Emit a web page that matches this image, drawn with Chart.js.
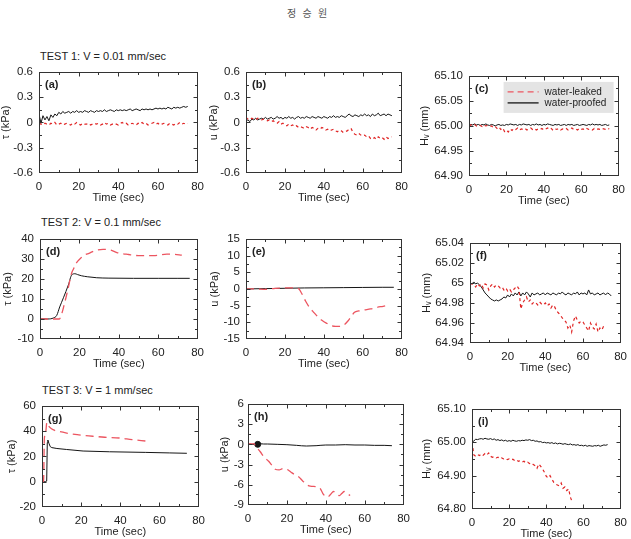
<!DOCTYPE html>
<html>
<head>
<meta charset="utf-8">
<script src="https://cdn.jsdelivr.net/npm/chart.js@4/dist/chart.umd.min.js"></script>
<style>
  html, body { margin: 0; padding: 0; background: #fff; overflow: hidden; }
  #page { position: relative; width: 631px; height: 539px; }
  .txt { position: absolute; font-family: "Liberation Sans", Arial, sans-serif; font-size: 11px; color: #222; white-space: nowrap; line-height: 13px; }
  .head { font-family: "Noto Sans CJK KR", sans-serif; font-size: 10px; color: #555; letter-spacing: 2px; }
</style>
</head>
<body>
<div id="page">
  <div class="txt head" style="left:287px;top:6px;">정 승 원</div>
  <div class="txt" style="left:40px;top:50px;">TEST 1: V = 0.01 mm/sec</div>
  <div class="txt" style="left:41px;top:216px;">TEST 2: V = 0.1 mm/sec</div>
  <div class="txt" style="left:42px;top:384px;">TEST 3: V = 1 mm/sec</div>
</div>
<script>
// --- axes ---
const X_TICK_VALUES = [0, 20, 40, 60, 80];
const X_TICK_LABELS = ['0', '20', '40', '60', '80'];

const yValsTau1 = [-0.6, -0.3, 0, 0.3, 0.6];
const yLabelsTau1 = ['-0.6', '-0.3', '0', '0.3', '0.6'];
const yValsH1 = [64.90, 64.95, 65.00, 65.05, 65.10];
const yLabelsH1 = ['64.90', '64.95', '65.00', '65.05', '65.10'];
const yValsTau2 = [-10, 0, 10, 20, 30, 40];
const yLabelsTau2 = ['-10', '0', '10', '20', '30', '40'];
const yValsU2 = [-15, -10, -5, 0, 5, 10, 15];
const yLabelsU2 = ['-15', '-10', '-5', '0', '5', '10', '15'];
const yValsH2 = [64.94, 64.96, 64.98, 65.00, 65.02, 65.04];
const yLabelsH2 = ['64.94', '64.96', '64.98', '65', '65.02', '65.04'];
const yValsTau3 = [-20, 0, 20, 40, 60];
const yLabelsTau3 = ['-20', '0', '20', '40', '60'];
const yValsU3 = [-9, -6, -3, 0, 3, 6];
const yLabelsU3 = ['-9', '-6', '-3', '0', '3', '6'];
const yValsH3 = [64.80, 64.90, 65.00, 65.10];
const yLabelsH3 = ['64.80', '64.90', '65.00', '65.10'];

// --- time base for the sampled records (sec) ---
const T76 = [0,1,2,3,4,5,6,7,8,9,10,11,12,13,14,15,16,17,18,19,20,21,22,23,24,25,26,27,28,29,
  30,31,32,33,34,35,36,37,38,39,40,41,42,43,44,45,46,47,48,49,50,51,52,53,54,55,56,57,58,59,
  60,61,62,63,64,65,66,67,68,69,70,71,72,73,74,75];

// --- TEST 1 ---
const aTauProof = [0.10,-0.01,0.08,0.03,0.07,0.02,0.09,0.06,0.10,0.08,
  0.12,0.10,0.13,0.11,0.12,0.13,0.11,0.13,0.12,0.14,
  0.12,0.13,0.12,0.14,0.13,0.12,0.14,0.13,0.12,0.14,
  0.13,0.14,0.13,0.15,0.13,0.14,0.15,0.14,0.13,0.15,
  0.14,0.15,0.14,0.15,0.14,0.15,0.16,0.14,0.15,0.16,
  0.15,0.14,0.16,0.15,0.16,0.15,0.16,0.15,0.16,0.17,
  0.16,0.17,0.16,0.17,0.16,0.18,0.17,0.16,0.18,0.17,
  0.18,0.17,0.18,0.19,0.18,0.19];
const aTauLeak = [-0.01,-0.02,-0.03,-0.01,-0.02,-0.03,-0.01,-0.02,0.00,-0.03,
  -0.02,-0.01,-0.03,-0.02,-0.01,-0.02,-0.03,-0.01,-0.02,0.00,
  -0.02,-0.03,-0.01,-0.02,-0.02,-0.01,-0.03,-0.02,-0.01,-0.02,
  -0.01,-0.03,-0.02,0.00,-0.02,-0.01,-0.03,-0.02,-0.01,-0.02,
  -0.03,-0.01,0.00,-0.02,-0.01,-0.03,-0.02,-0.01,-0.02,-0.03,
  -0.01,-0.02,0.00,-0.02,-0.01,-0.03,-0.02,-0.01,0.00,-0.02,
  -0.01,-0.03,-0.02,-0.01,-0.02,-0.03,-0.01,-0.02,-0.03,-0.01,
  -0.02,0.00,-0.02,-0.01,-0.02,-0.01];
const bUProof = [0.02,0.03,0.01,0.04,0.03,0.05,0.03,0.04,0.05,0.04,
  0.06,0.04,0.05,0.06,0.04,0.05,0.07,0.05,0.06,0.04,
  0.06,0.05,0.07,0.05,0.06,0.04,0.06,0.07,0.05,0.06,
  0.05,0.07,0.06,0.05,0.07,0.06,0.05,0.07,0.06,0.05,
  0.07,0.06,0.05,0.07,0.06,0.08,0.06,0.07,0.06,0.08,
  0.07,0.06,0.08,0.10,0.08,0.07,0.09,0.08,0.07,0.09,
  0.08,0.10,0.08,0.09,0.07,0.10,0.08,0.09,0.11,0.08,
  0.09,0.10,0.08,0.10,0.09,0.08];
const bULeak = [0.06,0.04,0.03,0.05,0.04,0.03,0.05,0.04,0.03,0.04,
  0.03,0.02,0.03,0.01,0.02,0.00,-0.01,0.01,-0.02,-0.01,
  -0.03,-0.04,-0.02,-0.04,-0.03,-0.05,-0.04,-0.06,-0.05,-0.06,
  -0.07,-0.05,-0.06,-0.08,-0.06,-0.07,-0.09,-0.07,-0.08,-0.06,
  -0.07,-0.09,-0.08,-0.10,-0.09,-0.08,-0.10,-0.11,-0.09,-0.10,
  -0.12,-0.11,-0.10,-0.08,-0.07,-0.12,-0.14,-0.15,-0.13,-0.15,
  -0.16,-0.15,-0.17,-0.16,-0.19,-0.20,-0.18,-0.20,-0.17,-0.19,
  -0.18,-0.20,-0.17,-0.19,-0.18,-0.17];
const cHProof = [65.001,65.003,65.002,65.004,65.002,65.003,65.001,65.003,65.002,65.004,
  65.002,65.001,65.003,65.002,65.000,65.002,65.003,65.001,65.002,65.001,
  65.003,65.002,65.004,65.003,65.002,65.003,65.001,65.003,65.002,65.004,
  65.003,65.002,65.003,65.001,65.003,65.002,65.004,65.002,65.003,65.001,
  65.003,65.002,65.004,65.003,65.002,65.001,65.003,65.002,65.003,65.001,
  65.002,65.003,65.001,65.003,65.002,65.003,65.001,65.002,65.003,65.001,
  65.002,65.003,65.002,65.001,65.003,65.002,65.004,65.002,65.003,65.002,
  65.003,65.001,65.002,65.003,65.001,65.002];
const cHLeak = [65.000,65.002,65.001,65.003,65.000,65.002,65.001,64.999,65.002,65.000,
  65.001,64.999,65.000,64.997,64.999,64.995,64.998,64.993,64.996,64.989,
  64.992,64.988,64.994,64.991,64.995,64.993,64.996,64.992,64.994,64.993,
  64.995,64.992,64.994,64.996,64.993,64.995,64.992,64.994,64.993,64.995,
  64.992,64.994,64.996,64.993,64.995,64.991,64.994,64.993,64.995,64.992,
  64.994,64.993,64.995,64.992,64.994,64.996,64.993,64.994,64.992,64.995,
  64.993,64.994,64.992,64.995,64.993,64.994,64.992,64.995,64.993,64.994,
  64.993,64.995,64.994,64.993,64.995,64.994];

// --- TEST 2 ---
const dTimeProof = [0, 4, 6.8, 8.5, 10, 11.9, 14.4, 16.1, 17.8, 19, 21, 24, 28.8, 35, 47.5, 60, 70, 76];
const dTauProof = [0, 0, 0.5, 1.8, 6, 10.6, 17, 22, 22.6, 22.2, 21.6, 21.1, 20.6, 20.4, 20.3, 20.3, 20.3, 20.3];
const dTimeLeak = [0, 5, 9.8, 11, 12.5, 14, 16, 17, 18.5, 20.3, 22, 25.4, 28, 32, 36, 39, 45, 50.8, 57.6, 64.4, 68, 72];
const dTauLeak = [0, 0, 0, 2.5, 8, 14, 22.7, 25, 28, 30, 31.6, 33, 34.2, 34.8, 34.4, 33.2, 32.2, 31.6, 31.6, 32.4, 32.3, 31.9];
const eTimeProof = [0, 10, 20, 30, 40, 50, 60, 70, 76];
const eUProof = [0, 0.1, 0.2, 0.3, 0.35, 0.4, 0.45, 0.5, 0.5];
const eTimeLeak = [0, 5, 10, 15, 20, 25, 27, 28.5, 30.6, 32.5, 34.8, 37, 39, 41.5, 44, 46, 48.2, 50.5, 52.4, 54, 55.8, 58, 60.8, 64, 67.5, 70.5, 73];
const eULeak = [0, 0, -0.1, 0.2, 0.3, 0.3, 0.1, -1.2, -3.6, -5.4, -7, -8.4, -9.4, -10.3, -11, -11.2, -11.2, -10.7, -9.6, -8.3, -7, -6.6, -6.3, -6, -5.5, -5.2, -4.9];
const fHProof = [65.000,64.999,65.001,64.999,65.000,64.998,64.996,64.993,64.990,64.988,
  64.986,64.984,64.983,64.982,64.983,64.982,64.983,64.984,64.986,64.985,
  64.988,64.986,64.989,64.987,64.990,64.988,64.991,64.987,64.990,64.988,
  64.991,64.989,64.986,64.990,64.988,64.989,64.990,64.988,64.989,64.990,
  64.988,64.990,64.989,64.988,64.990,64.989,64.988,64.990,64.989,64.991,
  64.989,64.988,64.990,64.989,64.988,64.990,64.989,64.991,64.988,64.990,
  64.989,64.990,64.988,64.993,64.989,64.990,64.988,64.989,64.990,64.988,
  64.989,64.990,64.988,64.990,64.989,64.987];
const fHLeak = [65.000,64.999,64.998,64.996,64.999,64.997,64.999,64.995,64.999,64.998,
  64.993,64.997,64.999,64.996,64.998,64.997,64.995,64.996,64.993,64.995,
  64.992,64.994,64.991,64.993,64.995,64.997,64.994,64.974,64.980,64.983,
  64.986,64.981,64.983,64.979,64.981,64.980,64.978,64.981,64.979,64.978,
  64.980,64.977,64.979,64.975,64.978,64.976,64.972,64.970,64.968,64.965,
  64.963,64.961,64.955,64.958,64.951,64.962,64.967,64.963,64.960,64.962,
  64.961,64.958,64.955,64.952,64.960,64.956,64.954,64.959,64.951,64.955,
  64.953,64.957];

// --- TEST 3 ---
const gTimeProof = [0, 2, 2.4, 2.7, 3, 3.5, 4.2, 5, 7.6, 12.6, 21, 34.5, 53, 65, 74];
const gTauProof = [0, 0, 0.5, 31, 33, 30.5, 27.8, 27, 26.3, 25.5, 24.3, 23.7, 23.2, 22.8, 22.5];
const gTimeLeak = [0, 0.5, 0.8, 1.2, 1.8, 2.5, 3, 4, 5.9, 8, 12.6, 18, 26, 32, 39.5, 46, 53];
const gTauLeak = [0, 0, 0.5, 34, 38, 47, 45, 43, 41, 40, 38.5, 37.2, 36, 35.2, 34.6, 33.3, 32.2];
const hTimeProof = [0, 2, 4, 5, 6, 8, 10, 15, 20, 25, 30, 35, 40, 45, 50, 55, 60, 65, 70, 74];
const hUProof = [0, 0, 0, 0, 0.1, 0.05, 0.05, 0, -0.05, -0.15, -0.25, -0.2, -0.1, -0.1, -0.05, -0.1, -0.1, -0.15, -0.15, -0.2];
const hTimeLeak = [0, 1, 2, 3, 4, 6.3, 8, 10.6, 12, 14, 16, 18, 20, 22, 24, 26, 28, 30.3, 32, 35.4, 37, 38.5, 39.7, 41, 42.5, 44, 45.5, 47, 48.2, 49.5, 51, 52.5];
const hULeak = [0, 0.1, 0.05, 0.1, -0.3, -1.1, -1.8, -2.5, -3, -3.7, -3.8, -3.6, -3.7, -4.1, -4.5, -4.8, -5.4, -6, -6.2, -6.3, -6.5, -7.3, -7.7, -7.8, -7.4, -7.0, -7.3, -7.6, -7.3, -7.0, -7.3, -7.6];
const iHProof = [65.000,65.004,65.009,65.008,65.010,65.011,65.009,65.012,65.010,65.009,
  65.011,65.008,65.010,65.006,65.008,65.005,65.007,65.004,65.006,65.003,
  65.005,65.003,65.006,65.004,65.003,65.005,65.004,65.006,65.005,65.007,
  65.006,65.008,65.005,65.006,65.003,65.004,65.001,65.002,64.999,65.000,
  64.998,64.999,64.997,64.999,64.996,64.998,64.995,64.997,64.996,64.994,
  64.996,64.994,64.993,64.995,64.992,64.993,64.991,64.993,64.990,64.991,
  64.989,64.991,64.988,64.990,64.989,64.988,64.990,64.989,64.991,64.988,
  64.990,64.992,64.991,64.993];
const iHLeak = [65.000,64.962,64.958,64.963,64.960,64.965,64.961,64.966,64.962,64.968,
  64.958,64.955,64.957,64.953,64.955,64.951,64.953,64.950,64.952,64.948,
  64.950,64.947,64.949,64.945,64.947,64.943,64.945,64.941,64.943,64.938,
  64.940,64.936,64.938,64.933,64.930,64.922,64.935,64.928,64.920,64.910,
  64.898,64.893,64.900,64.890,64.880,64.874,64.872,64.869,64.878,64.862,
  64.866,64.855,64.860,64.835,64.820];

const LABEL_LEAK = 'water-leaked';
const LABEL_PROOF = 'water-proofed';
const RED = '#e02626';
const RED_SOFT = '#ec5560';
const BLACK = '#151515';
const FONT = '"Liberation Sans", Arial, sans-serif';

Chart.defaults.font.family = FONT;
Chart.defaults.font.size = 11;
Chart.defaults.color = '#222';

const zip = (xs, ys) => ys.map((y, i) => ({ x: xs[i], y }));

// noisy records: short dashes / thin solid line
const leakNoisy = (xs, ys) => ({ label: LABEL_LEAK, data: zip(xs, ys), borderColor: RED, borderWidth: 1.2, borderDash: [3, 3], pointRadius: 0, tension: 0 });
const proofNoisy = (xs, ys) => ({ label: LABEL_PROOF, data: zip(xs, ys), borderColor: BLACK, borderWidth: 1, pointRadius: 0, tension: 0 });
// smooth records: long dashes
const leakSmooth = (xs, ys) => ({ label: LABEL_LEAK, data: zip(xs, ys), borderColor: RED_SOFT, borderWidth: 1.3, borderDash: [8, 5], pointRadius: 0, cubicInterpolationMode: 'monotone' });
const proofSmooth = (xs, ys) => ({ label: LABEL_PROOF, data: zip(xs, ys), borderColor: BLACK, borderWidth: 1, pointRadius: 0, cubicInterpolationMode: 'monotone' });

// box, inward ticks, panel tag and the legend of (c)
const framePlugin = {
  id: 'frame',
  afterDatasetsDraw(chart, args, opts) {
    const { ctx, chartArea: a, scales: { x, y } } = chart;
    const L = Math.round(a.left) + 0.5, R = Math.round(a.right) - 0.5;
    const T = Math.round(a.top) + 0.5, B = Math.round(a.bottom) - 0.5;
    ctx.save();
    ctx.strokeStyle = '#333';
    ctx.lineWidth = 1;
    ctx.setLineDash([]);
    ctx.strokeRect(L, T, R - L, B - T);

    const mids = (v) => v.slice(1).map((s, i) => (s + v[i]) / 2);
    ctx.beginPath();
    const xMaj = X_TICK_VALUES, yMaj = opts.yVals;
    [[xMaj, 4], [mids(xMaj), 2.5]].forEach(([vals, len]) => vals.forEach(v => {
      const p = Math.round(x.getPixelForValue(v)) + 0.5;
      if (p <= L + 1 || p >= R - 1) return;
      ctx.moveTo(p, B); ctx.lineTo(p, B - len);
      ctx.moveTo(p, T); ctx.lineTo(p, T + len);
    }));
    [[yMaj, 4], [mids(yMaj), 2.5]].forEach(([vals, len]) => vals.forEach(v => {
      const p = Math.round(y.getPixelForValue(v)) + 0.5;
      if (p <= T + 1 || p >= B - 1) return;
      ctx.moveTo(L, p); ctx.lineTo(L + len, p);
      ctx.moveTo(R, p); ctx.lineTo(R - len, p);
    }));
    ctx.stroke();

    ctx.fillStyle = '#222';
    ctx.font = 'bold 11px ' + FONT;
    ctx.textBaseline = 'middle';
    ctx.textAlign = 'left';
    ctx.fillText(opts.tag, a.left + 6, a.top + 13);

    if (opts.legend) {
      const bx = a.right - 115, by = a.top + 6, bw = 110, bh = 31;
      ctx.fillStyle = '#e4e4e4';
      ctx.fillRect(bx, by, bw, bh);
      ctx.font = '10px ' + FONT;
      chart.data.datasets.forEach((ds, i) => {
        const yy = by + 10 + i * 11;
        ctx.beginPath();
        ctx.strokeStyle = ds.borderColor === RED ? RED_SOFT : ds.borderColor;
        ctx.lineWidth = 1.3;
        ctx.setLineDash(ds.borderDash ? [6, 4] : []);
        ctx.moveTo(bx + 4, yy); ctx.lineTo(bx + 35, yy);
        ctx.stroke();
        ctx.fillStyle = '#222';
        ctx.fillText(ds.label, bx + 41, yy);
      });
    }
    ctx.restore();
  }
};

function panel(cfg) {
  const [l, t, r, b] = cfg.box;
  const padTop = 10, padRight = 12, xh = 36;
  const w = r - l + cfg.yw + padRight, h = b - t + padTop + xh;
  const canvas = document.createElement('canvas');
  canvas.width = w; canvas.height = h;
  canvas.style.cssText = `position:absolute;left:${l - cfg.yw}px;top:${t - padTop}px;width:${w}px;height:${h}px`;
  document.getElementById('page').appendChild(canvas);

  new Chart(canvas, {
    type: 'line',
    data: { datasets: cfg.datasets },
    options: {
      responsive: false,
      animation: false,
      events: [],
      layout: { padding: { top: padTop, right: padRight, left: 0, bottom: 0 } },
      plugins: {
        legend: { display: false },
        tooltip: { enabled: false },
        frame: { tag: cfg.tag, legend: cfg.legend, yVals: cfg.yVals },
      },
      scales: {
        x: {
          type: 'linear', min: 0, max: 80,
          afterBuildTicks: s => { s.ticks = X_TICK_VALUES.map(v => ({ value: v })); },
          ticks: { padding: 7, autoSkip: false, maxRotation: 0, font: { size: 11.5 }, callback: (v, i) => X_TICK_LABELS[i] },
          grid: { display: false, drawTicks: false },
          border: { display: false },
          title: { display: true, text: 'Time (sec)', padding: { top: 0, bottom: 4 } },
          afterFit: s => { s.height = xh; },
        },
        y: {
          type: 'linear', min: cfg.yVals[0], max: cfg.yVals[cfg.yVals.length - 1],
          afterBuildTicks: s => { s.ticks = cfg.yVals.map(v => ({ value: v })); },
          ticks: { padding: cfg.tickPad || 6, autoSkip: false, font: { size: 11.5 }, callback: (v, i) => cfg.yLabels[i] },
          grid: { display: false, drawTicks: false },
          border: { display: false },
          title: { display: true, text: cfg.yTitle, padding: { top: 0, bottom: 0 } },
          afterFit: s => { s.width = cfg.yw; },
        },
      },
    },
    plugins: [framePlugin],
  });
}

const TAU = 'τ (kPa)', U = 'u (kPa)', HV = 'Hᵥ (mm)';

panel({ tag: '(a)', box: [39, 69, 199, 173], yw: 40, yVals: yValsTau1, yLabels: yLabelsTau1, yTitle: TAU,
  datasets: [leakNoisy(T76, aTauLeak), proofNoisy(T76, aTauProof)] });
panel({ tag: '(b)', box: [246, 69, 403, 173], yw: 39, yVals: yValsTau1, yLabels: yLabelsTau1, yTitle: U,
  datasets: [leakNoisy(T76, bULeak), proofNoisy(T76, bUProof)] });
panel({ tag: '(c)', box: [469, 73, 620, 176], yw: 51, yVals: yValsH1, yLabels: yLabelsH1, yTitle: HV, legend: true,
  datasets: [leakNoisy(T76, cHLeak), proofNoisy(T76, cHProof)] });

panel({ tag: '(d)', box: [40, 236, 199, 339], yw: 39, yVals: yValsTau2, yLabels: yLabelsTau2, yTitle: TAU,
  datasets: [leakSmooth(dTimeLeak, dTauLeak), proofSmooth(dTimeProof, dTauProof)] });
panel({ tag: '(e)', box: [246, 236, 403, 339], yw: 38, yVals: yValsU2, yLabels: yLabelsU2, yTitle: U,
  datasets: [leakSmooth(eTimeLeak, eULeak), proofSmooth(eTimeProof, eUProof)] });
panel({ tag: '(f)', box: [470, 240, 622, 343], yw: 50, yVals: yValsH2, yLabels: yLabelsH2, yTitle: HV,
  datasets: [leakNoisy(T76, fHLeak), proofNoisy(T76, fHProof)] });

const hProof = proofSmooth(hTimeProof, hUProof);
hProof.pointRadius = ctx => (hTimeProof[ctx.dataIndex] === 5 ? 3 : 0);
hProof.pointBackgroundColor = BLACK;
panel({ tag: '(g)', box: [42, 403, 200, 507], yw: 37, yVals: yValsTau3, yLabels: yLabelsTau3, yTitle: TAU,
  datasets: [leakSmooth(gTimeLeak, gTauLeak), { ...proofSmooth(gTimeProof, gTauProof), cubicInterpolationMode: 'default', tension: 0 }] });
panel({ tag: '(h)', box: [248, 403, 405, 505], yw: 30, tickPad: 4, yVals: yValsU3, yLabels: yLabelsU3, yTitle: U,
  datasets: [leakSmooth(hTimeLeak, hULeak), hProof] });
panel({ tag: '(i)', box: [472, 406, 622, 509], yw: 52, yVals: yValsH3, yLabels: yLabelsH3, yTitle: HV,
  datasets: [leakNoisy(T76, iHLeak), proofNoisy(T76, iHProof)] });
</script>
</body>
</html>
